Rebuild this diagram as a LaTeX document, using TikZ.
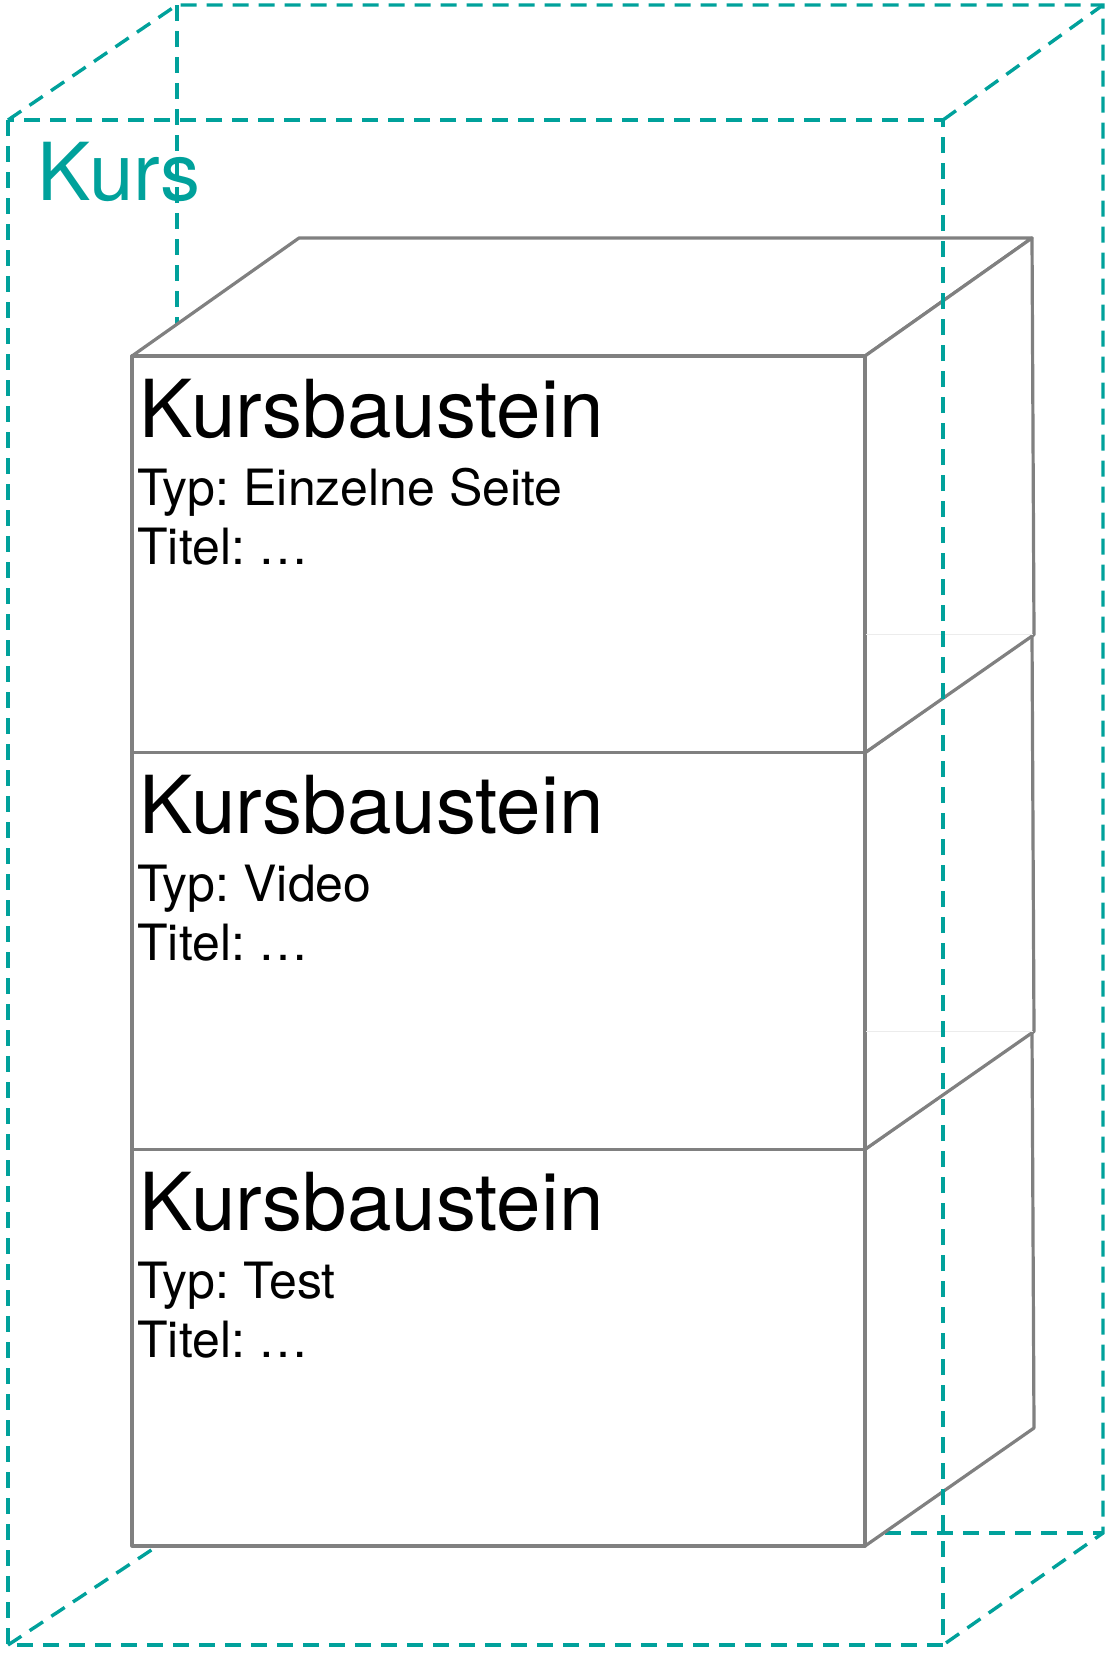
\documentclass[tikz,border=0pt]{standalone}
\usepackage{fontspec}
\setmainfont{TeX Gyre Heros}
\frenchspacing
\definecolor{kursteal}{HTML}{00A19B}
\definecolor{boxgray}{HTML}{808080}
\tikzset{
  kursline/.style={draw=kursteal, line width=1.7pt, dash pattern=on 8pt off 5pt},
  baustein/.style={draw=boxgray, fill=white, line width=1.6pt, line join=round},
  bigtext/.style={anchor=base west, inner sep=0pt, font=\fontsize{40}{40}\selectfont},
  smalltext/.style={anchor=base west, inner sep=0pt, font=\fontsize{25}{25}\selectfont},
}
\begin{document}
\begin{tikzpicture}[x=0.5pt, y=-0.5pt]
  \useasboundingbox (0,0) rectangle (1105,1654);
  \node[bigtext, text=kursteal] (kurs) at (37,200) {Kurs};
  \draw[kursline] (177,5) -- (177,1533) -- (1103,1533);
  \draw[kursline] (8,1645) -- (177,1533);
  \foreach \y/\typ [count=\i] in {1149.3/Test, 752.7/Video, 356/Einzelne Seite} {
    \pgfmathsetmacro\b{\y+396.7}
    \draw[baustein] (132,\y) -- (299,\y-118) -- (1032,\y-118) -- (865,\y) -- cycle;
    \draw[baustein] (865,\y) -- (1032,\y-118) -- (1034,\b-118) -- (865,\b) -- cycle;
    \draw[baustein] (132,\y) rectangle (865,\b);
    \node[bigtext] (baustein\i) at (139,\y+81) {Kursbaustein};
    \node[smalltext] (typ\i) at (137,\y+149) {Typ: \typ};
    \node[smalltext] (titel\i) at (137,\y+208) {Titel: …};
  }
  \draw[gray!15, line width=0.6pt] (866,634.7) -- (1033,634.7);
  \draw[gray!15, line width=0.6pt] (866,1031.3) -- (1033,1031.3);
  \draw[kursline] (8,120) rectangle (943,1645);
  \draw[kursline] (8,120) -- (177,5) -- (1103,5) -- (1103,1533) -- (943,1645);
  \draw[kursline] (943,120) -- (1103,5);
\end{tikzpicture}
\end{document}
